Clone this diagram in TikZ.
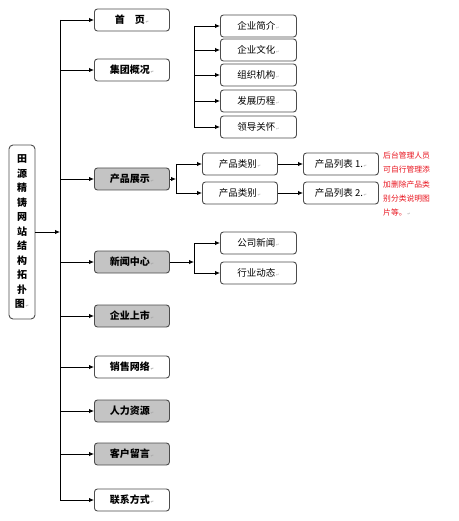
\documentclass[tikz,border=0pt]{standalone}
\usepackage{fontspec}
\setmainfont{Noto Sans CJK SC}
\newfontfamily\markfont{DejaVu Sans}
\usetikzlibrary{arrows.meta}
\newcommand{\pmk}{{\markfont\fontsize{4}{4}\selectfont\color{black!35}\,↵}}
\definecolor{boxgray}{HTML}{C4C4C4}
\definecolor{notered}{HTML}{E8141E}
\tikzset{
  conn/.style={draw=black, line width=0.9pt},
  arr/.style={conn, -{Latex[length=5pt,width=4.5pt]}},
  box/.style={draw=black!70, line width=0.9pt, rounded corners=3pt, minimum height=22pt, inner sep=0pt, anchor=west, fill=white},
  lone/.style={box, minimum width=75pt, font=\fontsize{10}{12}\selectfont\bfseries},
  lonegray/.style={lone, fill=boxgray},
  ltwo/.style={box, minimum width=76pt, font=\fontsize{9.5}{12}\selectfont},
  note/.style={text=notered, font=\fontsize{7.8}{14.2}\selectfont, align=left, anchor=north west, inner sep=0pt}
}
\begin{document}
\begin{tikzpicture}[x=1pt,y=-1pt]
\useasboundingbox (0,0) rectangle (458,521);
% root
\node[draw=black!70, line width=0.9pt, rounded corners=4pt, minimum width=26pt, minimum height=174pt, inner sep=0pt,
  align=center, font=\fontsize{10}{14.5}\selectfont\bfseries] (root) at (22,232)
  {田\\源\\精\\铸\\网\\站\\结\\构\\拓\\扑\\图\pmk};
% trunk
\coordinate (ttop) at (60,20);
\coordinate (tbot) at (60,500);
\draw[conn] (ttop) -- (tbot);
\draw[arr] (root.east) -- (root.east -| ttop);
% level 1
\node[lone] (home) at (94,20) {首　页\pmk};
\node[lone] (group) at (94,70) {集团概况\pmk};
\node[lonegray] (prod) at (94,179) {产品展示\pmk};
\node[lonegray] (news) at (94,262) {新闻中心\pmk};
\node[lonegray] (ipo) at (94,316) {企业上市\pmk};
\node[lone] (sales) at (94,367) {销售网络\pmk};
\node[lonegray] (hr) at (94,411) {人力资源\pmk};
\node[lonegray] (msg) at (94,454) {客户留言\pmk};
\node[lone] (contact) at (94,500) {联系方式\pmk};
\foreach \n in {home,group,prod,news,ipo,sales,hr,msg,contact}
  \draw[arr] (ttop |- \n.west) -- (\n.west);
% group sub
\coordinate (gtop) at (194,26);
\coordinate (gbot) at (194,127);
\draw[conn] (gtop) -- (gbot);
\node[ltwo] (g1) at (220,26) {企业简介\pmk};
\node[ltwo] (g2) at (220,50) {企业文化\pmk};
\node[ltwo] (g3) at (220,75) {组织机构\pmk};
\node[ltwo] (g4) at (220,101) {发展历程\pmk};
\node[ltwo] (g5) at (220,127) {领导关怀\pmk};
\foreach \n in {g1,g2,g3,g4,g5}
  \draw[arr] (gtop |- \n.west) -- (\n.west);
% product sub
\coordinate (ptop) at (176,164);
\coordinate (pbot) at (176,193);
\draw[conn] (ptop) -- (pbot);
\draw[arr] (prod.east) -- (prod.east -| ptop);
\node[ltwo, minimum width=75pt] (c1) at (202,164) {产品类别\pmk};
\node[ltwo, minimum width=75pt] (c2) at (202,193) {产品类别\pmk};
\node[ltwo, minimum width=75pt] (l1) at (303,164) {产品列表 1.\pmk};
\node[ltwo, minimum width=75pt] (l2) at (303,193) {产品列表 2.\pmk};
\foreach \n in {c1,c2}
  \draw[arr] (ptop |- \n.west) -- (\n.west);
\draw[arr] (c1.east) -- (l1.west);
\draw[arr] (c2.east) -- (l2.west);
\node[note] (note) at (383,152) {后台管理人员\\可自行管理添\\加删除产品类\\别分类说明图\\片等。\pmk};
% news sub
\coordinate (ntop) at (194,243);
\coordinate (nbot) at (194,273);
\draw[conn] (ntop) -- (nbot);
\draw[arr] (news.east) -- (news.east -| ntop);
\node[ltwo] (n1) at (220,243) {公司新闻\pmk};
\node[ltwo] (n2) at (220,273) {行业动态\pmk};
\foreach \n in {n1,n2}
  \draw[arr] (ntop |- \n.west) -- (\n.west);
\end{tikzpicture}
\end{document}
